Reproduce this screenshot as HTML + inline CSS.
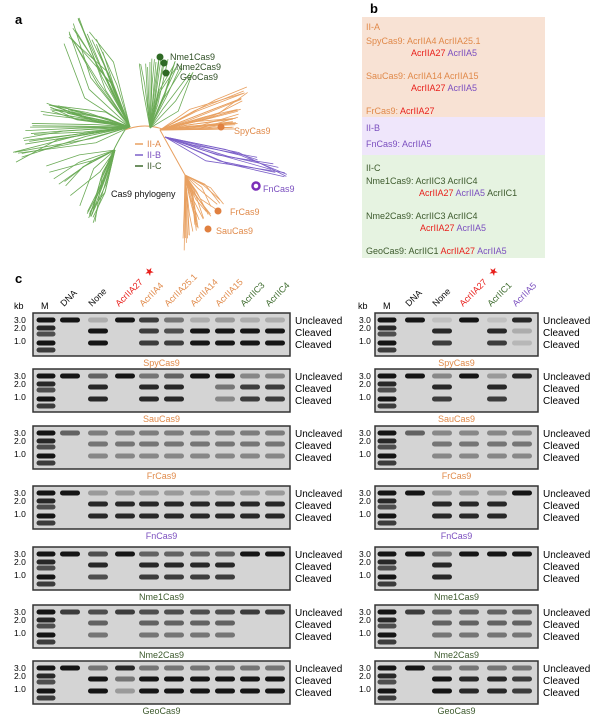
<!DOCTYPE html>
<html><head><meta charset="utf-8">
<style>
body{margin:0;background:#fff;}
svg{display:block;font-family:"Liberation Sans",Arial,sans-serif;}
</style></head>
<body>
<svg id="s" width="601" height="721" viewBox="0 0 601 721" xmlns="http://www.w3.org/2000/svg">
<rect width="601" height="721" fill="#fff"/>
<text x="15" y="24" font-size="13" font-weight="bold">a</text>
<text x="15" y="283" font-size="13" font-weight="bold">c</text>
<g id="tree"></g>
<!-- panel b -->
<rect x="362" y="17" width="183" height="100" fill="#f8e2d4"/>
<rect x="362" y="117" width="183" height="38" fill="#efe6fb"/>
<rect x="362" y="155" width="183" height="103" fill="#e6f3e1"/>
<text x="370" y="13" font-size="13" font-weight="bold">b</text>
<g font-size="9">
<text x="366" y="30" fill="#e0894a">II-A</text>
<text x="366" y="44" fill="#e0894a">SpyCas9: AcrIIA4  AcrIIA25.1</text>
<text x="411" y="56" fill="#e8201c">AcrIIA27 <tspan fill="#7b4fbf">AcrIIA5</tspan></text>
<text x="366" y="79" fill="#e0894a">SauCas9: AcrIIA14  AcrIIA15</text>
<text x="411" y="91" fill="#e8201c">AcrIIA27 <tspan fill="#7b4fbf">AcrIIA5</tspan></text>
<text x="366" y="114" fill="#e0894a">FrCas9: <tspan fill="#e8201c">AcrIIA27</tspan></text>
<text x="366" y="131" fill="#7b4fbf">II-B</text>
<text x="366" y="147" fill="#7b4fbf">FnCas9: AcrIIA5</text>
<text x="366" y="171" fill="#3d5a2d">II-C</text>
<text x="366" y="184" fill="#3d5a2d">Nme1Cas9: AcrIIC3  AcrIIC4</text>
<text x="419" y="196" fill="#e8201c">AcrIIA27 <tspan fill="#7b4fbf">AcrIIA5</tspan> <tspan fill="#3d5a2d">AcrIIC1</tspan></text>
<text x="366" y="219" fill="#3d5a2d">Nme2Cas9: AcrIIC3  AcrIIC4</text>
<text x="420" y="231" fill="#e8201c">AcrIIA27 <tspan fill="#7b4fbf">AcrIIA5</tspan></text>
<text x="366" y="254" fill="#3d5a2d">GeoCas9: AcrIIC1 <tspan fill="#e8201c">AcrIIA27</tspan> <tspan fill="#7b4fbf">AcrIIA5</tspan></text>
</g>
<g id="gels"></g>
</svg>
<script>
var NS="http://www.w3.org/2000/svg";
function el(p,t,a,txt){var e=document.createElementNS(NS,t);for(var k in a)e.setAttribute(k,a[k]);if(txt!==undefined)e.textContent=txt;p.appendChild(e);return e;}
var seed=7;function rnd(){seed=(seed*9301+49297)%233280;return seed/233280;}
var T=document.getElementById('tree');
var G="#6aaa55",O="#e8a060",P="#7b5fc8";
function fan(x0,y0,tips,col,n,jit){for(var i=0;i<tips.length-1;i++){var a=tips[i],b=tips[i+1];for(var j=0;j<n;j++){var t=rnd();var x=a[0]+(b[0]-a[0])*t+(rnd()-.5)*jit,y=a[1]+(b[1]-a[1])*t+(rnd()-.5)*jit;var mx=x0+(x-x0)*(0.3+rnd()*0.4),my=y0+(y-y0)*(0.3+rnd()*0.4);el(T,'polyline',{points:x0+','+y0+' '+mx+','+my+' '+x+','+y,fill:'none',stroke:col,'stroke-width':0.8});}}}
el(T,'path',{d:"M125,130 Q145,122 165,130",fill:'none',stroke:O,'stroke-width':1});
el(T,'path',{d:"M125,130 Q115,145 105,170",fill:'none',stroke:G,'stroke-width':1});
fan(130,127,[[65,45],[80,17],[100,50]],G,10,8);
fan(130,127,[[15,160],[45,105],[70,115]],G,18,10);
fan(150,128,[[140,65],[165,60],[195,75]],G,12,8);
fan(115,150,[[45,165],[90,215],[95,220]],G,10,8);
fan(160,130,[[248,88],[235,118],[235,130]],O,14,6);
fan(185,175,[[180,250],[200,220],[225,200]],O,14,8);
el(T,'polyline',{points:"160,130 185,175",fill:'none',stroke:O,'stroke-width':1});
fan(165,137,[[250,155],[290,178]],P,10,6);
el(T,'circle',{cx:160,cy:57,r:3.5,fill:'#2f6a25'});el(T,'circle',{cx:164,cy:63,r:3.5,fill:'#2f6a25'});el(T,'circle',{cx:166,cy:73,r:3.5,fill:'#2f6a25'});
el(T,'circle',{cx:221,cy:127,r:3.5,fill:'#e08040'});el(T,'circle',{cx:218,cy:211,r:3.5,fill:'#e08040'});el(T,'circle',{cx:208,cy:229,r:3.5,fill:'#e08040'});
el(T,'circle',{cx:256,cy:186,r:3.5,fill:'none',stroke:'#7b2fb8','stroke-width':2.5});
var tl=[["Nme1Cas9",170,60,'#2f4f25'],["Nme2Cas9",176,70,'#2f4f25'],["GeoCas9",180,80,'#2f4f25'],["SpyCas9",234,134,'#e08a4a'],["FnCas9",263,192,'#7b4fbf'],["FrCas9",230,215,'#e08a4a'],["SauCas9",216,234,'#e08a4a']];
tl.forEach(function(t){el(T,'text',{x:t[1],y:t[2],'font-size':9,fill:t[3]},t[0]);});
[["II-A",O,'#e08a4a',147],["II-B",P,'#7b4fbf',158],["II-C",'#3d6b2d','#3d5a2d',169]].forEach(function(l){el(T,'line',{x1:135,y1:l[3]-3,x2:143,y2:l[3]-3,stroke:l[1],'stroke-width':1.5});el(T,'text',{x:147,y:l[3],'font-size':9,fill:l[2]},l[0]);});
el(T,'text',{x:111,y:197,'font-size':9,fill:'#111'},"Cas9 phylogeny");

var Gg=document.getElementById('gels');
var tops=[313,369,426,486,547,605,661];
var names=[["SpyCas9","#e08a4a"],["SauCas9","#e08a4a"],["FrCas9","#e08a4a"],["FnCas9","#7b4fbf"],["Nme1Cas9","#3d5a2d"],["Nme2Cas9","#3d5a2d"],["GeoCas9","#3d5a2d"]];
var L={x0:33,x1:290,m:46,lanes:[70,98,125,149,174,200,225,250,275]};
var R={x0:375,x1:538,m:387,lanes:[415,442,469,497,522]};
var LD=[
[[1,0,0],[.2,1,1],[1,0,0],[.8,.8,.8],[.5,.7,.8],[.2,1,1],[.3,1,1],[.2,1,1],[.2,1,1]],
[[1,0,0],[.6,.9,.9],[1,0,0],[.5,.9,.9],[.6,.9,.9],[1,0,0],[1,.5,.4],[.4,.8,.8],[.4,.8,.8]],
[[.6,0,0],[.45,.5,.4],[.45,.5,.4],[.45,.5,.4],[.45,.5,.4],[.45,.5,.4],[.45,.5,.4],[.45,.5,.4],[.45,.5,.4]],
[[1,0,0],[.3,.9,.9],[.3,.9,.9],[.3,.9,.9],[.3,.9,.9],[.3,.9,.9],[.3,.9,.9],[.3,.9,.9],[.3,.9,.9]],
[[1,0,0],[.7,.9,.7],[1,0,0],[.6,.9,.8],[.6,.9,.8],[.6,.9,.8],[.6,.9,.8],[1,0,0],[1,0,0]],
[[.8,0,0],[.7,.6,.5],[.8,0,0],[.7,.6,.5],[.7,.6,.5],[.7,.6,.5],[.7,.6,.5],[.8,0,0],[.8,0,0]],
[[1,0,0],[.5,1,1],[.9,.5,.3],[.5,1,1],[.5,1,1],[.5,1,1],[.5,1,1],[.5,1,1],[.5,1,1]]];
var RD=[
[[1,0,0],[.1,.9,.8],[1,0,0],[.1,.9,.8],[.9,.2,.15]],
[[1,0,0],[.4,.9,.8],[1,0,0],[.3,.9,.8],[.9,0,0]],
[[.6,0,0],[.4,.5,.4],[.4,.5,.4],[.4,.5,.4],[.4,.5,.4]],
[[1,0,0],[.3,.9,.9],[.3,.9,.9],[.3,.9,.9],[1,0,0]],
[[1,0,0],[.5,.9,.9],[1,0,0],[1,0,0],[1,0,0]],
[[.8,0,0],[.6,.6,.5],[.6,.6,.5],[.6,.6,.5],[.6,.6,.5]],
[[1,0,0],[.5,1,1],[.5,.9,.9],[.5,.9,.9],[.5,.8,.8]]];
function band(x,y,w,o){if(o<=0)return;el(Gg,'rect',{x:x-w/2,y:y-2.5,width:w,height:5,rx:2.5,fill:'#151515','fill-opacity':o});}
function gel(C,top,data,name,kbx){
 el(Gg,'rect',{x:C.x0,y:top,width:C.x1-C.x0,height:43,fill:'#d4d4d4',stroke:'#333','stroke-width':1.5});
 [[7,1],[15,.9],[21,.7],[30,1],[37,.8]].forEach(function(b){band(C.m,top+b[0],19,b[1]);});
 data.forEach(function(d,i){var x=C.lanes[i];band(x,top+7,20,d[0]);band(x,top+18,20,d[1]);band(x,top+30,20,d[2]);});
 el(Gg,'text',{x:kbx,y:top+10,'font-size':8.5},"3.0");el(Gg,'text',{x:kbx,y:top+18,'font-size':8.5},"2.0");el(Gg,'text',{x:kbx,y:top+31,'font-size':8.5},"1.0");
 var lx=C.x1+5;el(Gg,'text',{x:lx,y:top+11,'font-size':10},"Uncleaved");el(Gg,'text',{x:lx,y:top+23,'font-size':10},"Cleaved");el(Gg,'text',{x:lx,y:top+35,'font-size':10},"Cleaved");
 el(Gg,'text',{x:(C.x0+C.x1)/2,y:top+53,'font-size':9,'text-anchor':'middle',fill:name[1]},name[0]);
}
for(var i=0;i<7;i++){gel(L,tops[i],LD[i],names[i],14);gel(R,tops[i],RD[i],names[i],359);}
function hdr(x,t,c,star){var g=el(Gg,'g',{transform:'translate('+(x-6)+',307) rotate(-45)'});el(g,'text',{x:0,y:0,'font-size':9,fill:c},t);if(star){var w=t.length*5.2;el(g,'text',{x:w,y:0,'font-size':11,fill:'#e8201c'},"★");}}
var orange="#e08a4a",green="#3d6b2d";
el(Gg,'text',{x:14,y:309,'font-size':9},"kb");el(Gg,'text',{x:41,y:309,'font-size':9},"M");
el(Gg,'text',{x:358,y:309,'font-size':9},"kb");el(Gg,'text',{x:383,y:309,'font-size':9},"M");
[["DNA","#111"],["None","#111"],["AcrIIA27","#e8201c",1],["AcrIIA4",orange],["AcrIIA25.1",orange],["AcrIIA14",orange],["AcrIIA15",orange],["AcrIIC3",green],["AcrIIC4",green]].forEach(function(h,i){hdr(L.lanes[i],h[0],h[1],h[2]);});
[["DNA","#111"],["None","#111"],["AcrIIA27","#e8201c",1],["AcrIIC1",green],["AcrIIA5","#7b4fbf"]].forEach(function(h,i){hdr(R.lanes[i],h[0],h[1],h[2]);});
</script>
</body></html>
